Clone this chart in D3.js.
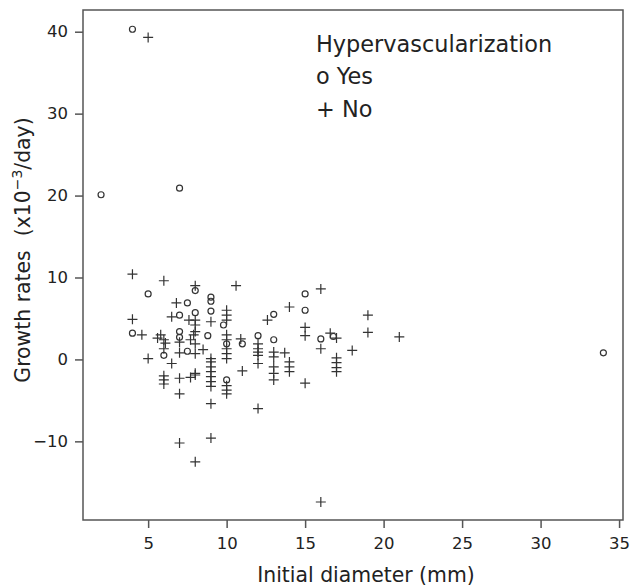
<!DOCTYPE html>
<html>
<head>
<meta charset="utf-8">
<script src="https://cdn.jsdelivr.net/npm/d3@7"></script>
<style>
  body { margin: 0; background: #fff; }
  text { font-family: "DejaVu Sans", "Liberation Sans", sans-serif; fill: #222; }
</style>
</head>
<body>
<div id="chart"></div>
<script>
// Hypervascularization = Yes (circles)
const yesDiameter = [2, 4, 7, 34, 5, 8, 9, 9, 7.5, 7, 8, 9, 9.8, 4, 7, 7, 8.8, 10, 11, 12, 13, 13, 15, 15, 16, 16.8, 6, 10, 7.5];
const yesGrowth   = [20.1, 40.3, 20.9, 0.8, 8.0, 8.4, 7.6, 7.1, 6.9, 5.4, 5.7, 5.9, 4.2, 3.2, 3.4, 2.7, 2.9, 1.9, 1.9, 2.9, 5.5, 2.4, 8.0, 6.0, 2.5, 2.8, 0.5, -2.5, 1.0];

// Hypervascularization = No (crosses)
const noDiameter = [
  4, 4, 4.6, 5, 5, 5.6, 5.8,
  6, 6, 6.1, 6, 6, 6, 6, 6.5, 6.5, 6.8,
  7, 7, 7, 7, 7, 7.6, 7.7, 7.7,
  8, 8, 8, 8, 7.9, 8, 8, 8, 8, 8, 8.5,
  9, 9, 9, 9, 9, 9, 9, 9, 9, 9,
  10, 10, 10, 10, 10, 10, 10, 10, 10, 10, 10, 10.6, 10.9, 11,
  12, 12, 12, 12, 12, 12, 12.6,
  13, 13, 13, 13, 13, 13.7, 14, 14, 14, 14,
  15, 15, 15, 16, 16, 16, 16.6, 17, 17, 17, 17, 17, 18, 19, 19, 21
];
const noGrowth = [
  10.4, 4.9, 3.0, 39.3, 0.1, 2.6, 3.0,
  9.6, 2.4, 2.0, 1.3, -2.0, -2.5, -3.0, 5.2, -0.5, 6.9,
  2.1, 0.8, -2.3, -4.2, -10.2, 4.8, 2.4, -2.2,
  9.0, 4.8, 4.2, 3.4, 3.0, 1.9, 0.7, -1.7, -1.9, -12.5, 1.2,
  4.6, 0.1, -0.3, -0.9, -1.5, -2.1, -2.7, -3.3, -5.4, -9.6,
  6.0, 5.4, 4.8, 3.0, 2.4, 1.3, 0.7, 0.1, -3.2, -3.75, -4.2, 9.0, 2.5, -1.4,
  1.9, 1.3, 0.9, 0.5, -0.5, -6.0, 4.8,
  0.9, 0.3, -0.9, -1.7, -2.5, 0.8, 6.4, -0.3, -0.9, -1.5,
  3.9, 2.9, -2.9, 8.6, 1.3, -17.4, 3.2, 2.6, 0.2, -0.4, -1.0, -1.5, 1.1, 5.4, 3.3, 2.75
];

const xTicks = [5, 10, 15, 20, 25, 30, 35];
const yTicks = [-10, 0, 10, 20, 30, 40];
const legendTitle = "Hypervascularization";
const legendLabels = ["o Yes", "+ No"];

const width = 634, height = 586;
const margin = { left: 83, right: 11, top: 10, bottom: 66 };

const svg = d3.select("#chart").append("svg")
  .attr("width", width)
  .attr("height", height);

const x = d3.scaleLinear().domain([0.85, 35.25]).range([margin.left, width - margin.right]);
const y = d3.scaleLinear().domain([-19.6, 42.65]).range([height - margin.bottom, margin.top]);

const ink = "#333";

// axes
svg.append("g")
  .attr("transform", `translate(0,${height - margin.bottom})`)
  .call(d3.axisBottom(x).tickValues(xTicks).tickSize(8).tickPadding(9).tickFormat(d3.format("d")))
  .call(g => g.select(".domain").remove())
  .call(g => g.selectAll("line").attr("stroke", "#555").attr("stroke-width", 1.5))
  .call(g => g.selectAll("text").style("font-size", "16.5px").attr("fill", "#222"));

svg.append("g")
  .attr("transform", `translate(${margin.left},0)`)
  .call(d3.axisLeft(y).tickValues(yTicks).tickSize(8).tickPadding(7).tickFormat(d3.format("d")))
  .call(g => g.select(".domain").remove())
  .call(g => g.selectAll("line").attr("stroke", "#555").attr("stroke-width", 1.5))
  .call(g => g.selectAll("text").style("font-size", "16.5px").attr("fill", "#222"));

// frame
svg.append("rect")
  .attr("x", margin.left)
  .attr("y", margin.top)
  .attr("width", width - margin.left - margin.right)
  .attr("height", height - margin.top - margin.bottom)
  .attr("fill", "none")
  .attr("stroke", "#555")
  .attr("stroke-width", 1.5);

// points
const yesData = yesDiameter.map((d, i) => ({ x: d, y: yesGrowth[i] }));
const noData = noDiameter.map((d, i) => ({ x: d, y: noGrowth[i] }));

svg.append("g").selectAll("circle")
  .data(yesData)
  .join("circle")
  .attr("cx", d => x(d.x))
  .attr("cy", d => y(d.y))
  .attr("r", 3)
  .attr("fill", "none")
  .attr("stroke", ink)
  .attr("stroke-width", 1.2);

svg.append("g").selectAll("path")
  .data(noData)
  .join("path")
  .attr("d", d => {
    const cx = x(d.x), cy = y(d.y), s = 5;
    return `M${cx - s},${cy}H${cx + s}M${cx},${cy - s}V${cy + s}`;
  })
  .attr("fill", "none")
  .attr("stroke", ink)
  .attr("stroke-width", 1.2);

// legend
const legend = svg.append("g").attr("transform", "translate(316,0)");
legend.append("text").attr("y", 52).style("font-size", "22.4px").text(legendTitle);
legend.selectAll("text.item")
  .data(legendLabels)
  .join("text")
  .attr("class", "item")
  .attr("y", (d, i) => 84 + i * 33)
  .style("font-size", "22.4px")
  .text(d => d);

// axis titles
svg.append("text")
  .attr("x", 366)
  .attr("y", 582)
  .attr("text-anchor", "middle")
  .style("font-size", "20.4px")
  .text("Initial diameter (mm)");

const yl = svg.append("text")
  .attr("transform", `translate(30,250) rotate(-90)`)
  .attr("text-anchor", "middle")
  .style("font-size", "20.4px");
yl.append("tspan").text("Growth rates");
yl.append("tspan").attr("dx", 14).text("(x10");
yl.append("tspan").attr("dy", -8).style("font-size", "14px").text("−3");
yl.append("tspan").attr("dy", 8).text("/day)");
</script>
</body>
</html>
